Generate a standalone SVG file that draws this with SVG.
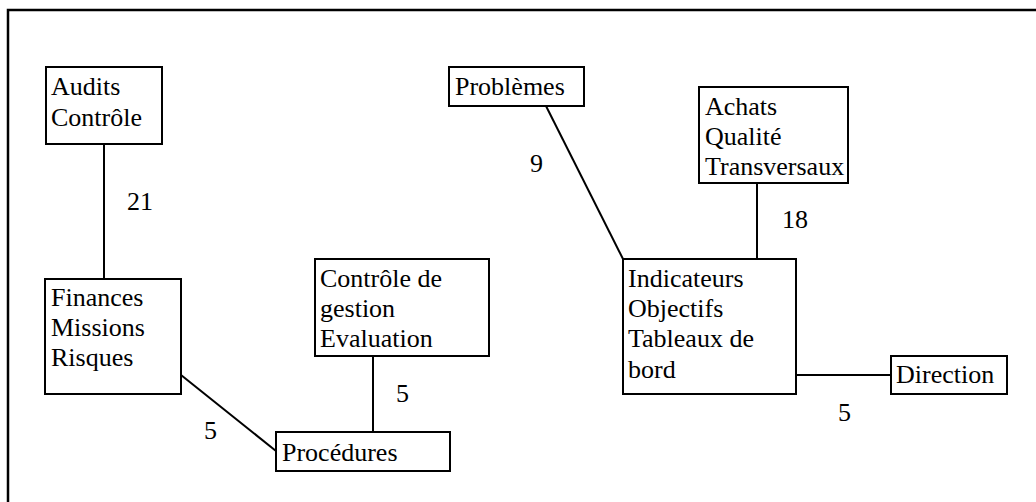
<svg xmlns="http://www.w3.org/2000/svg" width="1036" height="502" viewBox="0 0 1036 502">
<rect width="1036" height="502" fill="#fff"/>
<path d="M8,502 V10 H1036" fill="none" stroke="#000" stroke-width="2.5"/>
<g id="connectors">
<line x1="104" y1="144" x2="104" y2="279" stroke="#000" stroke-width="2"/>
<line x1="181" y1="375" x2="276" y2="451" stroke="#000" stroke-width="2"/>
<line x1="373" y1="356" x2="373" y2="432" stroke="#000" stroke-width="2"/>
<line x1="546" y1="106" x2="623" y2="259" stroke="#000" stroke-width="2"/>
<line x1="757" y1="183" x2="757" y2="259" stroke="#000" stroke-width="2"/>
<line x1="796" y1="375" x2="891" y2="375" stroke="#000" stroke-width="2"/>
<text x="127" y="210" font-family="Liberation Serif" font-size="26">21</text>
<text x="204" y="439" font-family="Liberation Serif" font-size="26">5</text>
<text x="396" y="402" font-family="Liberation Serif" font-size="26">5</text>
<text x="530" y="172" font-family="Liberation Serif" font-size="26">9</text>
<text x="782" y="228" font-family="Liberation Serif" font-size="26">18</text>
<text x="838" y="421" font-family="Liberation Serif" font-size="26">5</text>
</g>
<g id="audits">
<rect x="46" y="67" width="116" height="77" fill="#fff" stroke="#000" stroke-width="2"/>
<text x="51" y="95" font-family="Liberation Serif" font-size="26">Audits</text>
<text x="51" y="126" font-family="Liberation Serif" font-size="26">Contrôle</text>
</g>
<g id="finances">
<rect x="45" y="279" width="136" height="115" fill="#fff" stroke="#000" stroke-width="2"/>
<text x="51" y="306" font-family="Liberation Serif" font-size="26">Finances</text>
<text x="51" y="336" font-family="Liberation Serif" font-size="26">Missions</text>
<text x="51" y="366" font-family="Liberation Serif" font-size="26">Risques</text>
</g>
<g id="controle">
<rect x="315" y="259" width="174" height="97" fill="#fff" stroke="#000" stroke-width="2"/>
<text x="320" y="287" font-family="Liberation Serif" font-size="26">Contrôle de</text>
<text x="320" y="317" font-family="Liberation Serif" font-size="26">gestion</text>
<text x="320" y="347" font-family="Liberation Serif" font-size="26">Evaluation</text>
</g>
<g id="procedures">
<rect x="276" y="432" width="174" height="39" fill="#fff" stroke="#000" stroke-width="2"/>
<text x="282" y="461" font-family="Liberation Serif" font-size="26">Procédures</text>
</g>
<g id="problemes">
<rect x="449" y="67" width="135" height="39" fill="#fff" stroke="#000" stroke-width="2"/>
<text x="455" y="95" font-family="Liberation Serif" font-size="26">Problèmes</text>
</g>
<g id="achats">
<rect x="699" y="87" width="149" height="96" fill="#fff" stroke="#000" stroke-width="2"/>
<text x="705" y="115" font-family="Liberation Serif" font-size="26">Achats</text>
<text x="705" y="145" font-family="Liberation Serif" font-size="26">Qualité</text>
<text x="705" y="175" font-family="Liberation Serif" font-size="26">Transversaux</text>
</g>
<g id="indicateurs">
<rect x="623" y="259" width="173" height="135" fill="#fff" stroke="#000" stroke-width="2"/>
<text x="628" y="287" font-family="Liberation Serif" font-size="26">Indicateurs</text>
<text x="628" y="317" font-family="Liberation Serif" font-size="26">Objectifs</text>
<text x="628" y="347" font-family="Liberation Serif" font-size="26">Tableaux de</text>
<text x="628" y="378" font-family="Liberation Serif" font-size="26">bord</text>
</g>
<g id="direction">
<rect x="891" y="356" width="116" height="38" fill="#fff" stroke="#000" stroke-width="2"/>
<text x="896" y="383" font-family="Liberation Serif" font-size="26">Direction</text>
</g>
</svg>
